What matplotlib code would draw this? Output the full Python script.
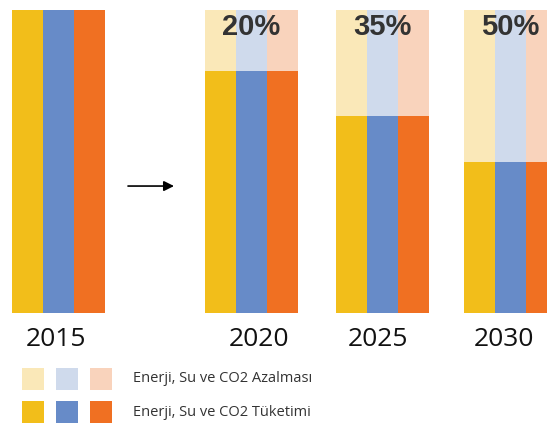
import matplotlib
matplotlib.use("Agg")
import matplotlib.pyplot as plt
from matplotlib.patches import Rectangle

# data
years = ["2015", "2020", "2025", "2030"]
reduction = [0, 20, 35, 50]          # % cut vs. 2015
series = ["Enerji", "Su", "CO2"]
dark_colors = ["#F2BE1A", "#678BC8", "#F07022"]
light_colors = ["#FAE8B8", "#CFDAEC", "#F9D3BC"]
legend_labels = ["Enerji, Su ve CO2 Azalması", "Enerji, Su ve CO2 Tüketimi"]

# layout (pixel units along x)
W, H = 547, 426
group_left = [12, 205, 336, 464]
year_x = [56, 259, 378, 504]
bar_w = 31

fig = plt.figure(figsize=(W / 100, H / 100), dpi=100)
ax = fig.add_axes([0, (H - 313) / H, 1, 303 / H])
ax.set_xlim(0, W)
ax.set_ylim(0, 100)
ax.axis("off")

for g, (yr, red) in enumerate(zip(years, reduction)):
    used = 100 - red
    for i in range(len(series)):
        x = group_left[g] + i * bar_w
        ax.bar(x, used, width=bar_w, align="edge", color=dark_colors[i], lw=0)
        if red > 0:
            ax.bar(x, red, bottom=used, width=bar_w, align="edge",
                   color=light_colors[i], lw=0)
    ax.text(year_x[g], -8.9, yr, ha="center", va="center", fontsize=19,
            family="Open Sans", color="#111111", clip_on=False)
    if red > 0:
        cx = group_left[g] + 1.5 * bar_w
        ax.text(cx, 94.5, f"{red}%", ha="center", va="center", fontsize=21,
                family="Liberation Sans", weight="heavy", color="#333333")

# arrow between 2015 and 2020
ax.annotate("", xy=(174, 41.9), xytext=(128, 41.9),
            arrowprops=dict(arrowstyle="-|>", color="black", lw=1.2,
                            mutation_scale=15, shrinkA=0, shrinkB=0))

# legend drawn in pixel coordinates
lax = fig.add_axes([0, 0, 1, 1], zorder=-1)
lax.set_xlim(0, W)
lax.set_ylim(H, 0)
lax.axis("off")
sq_x = [22, 56, 90]
rows = [(368, light_colors, legend_labels[0]), (401, dark_colors, legend_labels[1])]
for top, cols, label in rows:
    for x, c in zip(sq_x, cols):
        lax.add_patch(Rectangle((x, top), 22, 22, color=c, lw=0))
    lax.text(133, top + 11, label, ha="left", va="center", fontsize=10.5,
             family="Open Sans", color="#333333")

fig.savefig("out.png", dpi=100)
